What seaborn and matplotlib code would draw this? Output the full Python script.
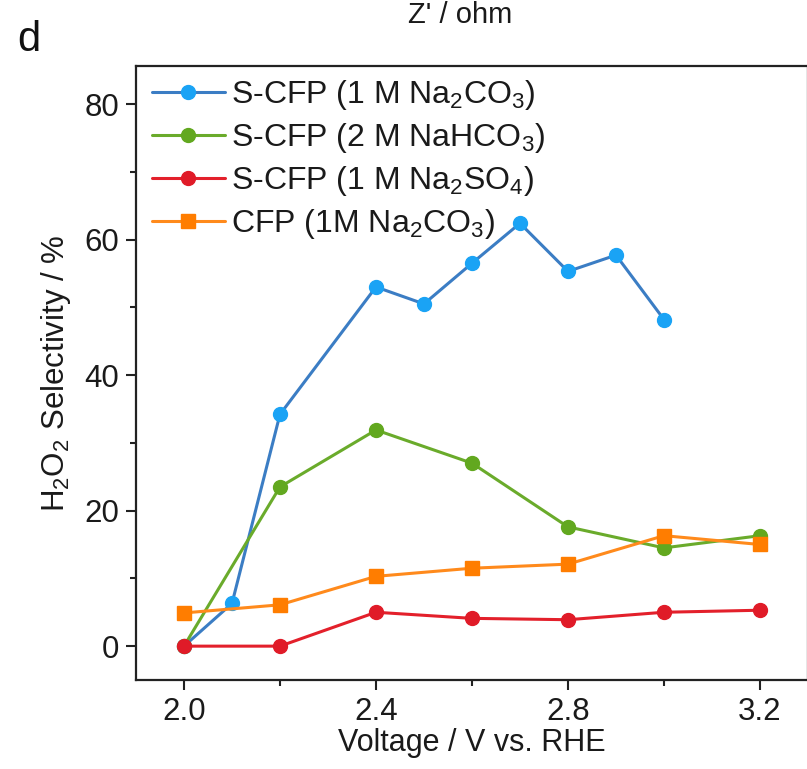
import matplotlib
matplotlib.use("Agg")
import matplotlib.pyplot as plt
import seaborn as sns
import pandas as pd
from matplotlib.ticker import MultipleLocator

# ---- data ----
x_na2co3 = [2.0, 2.1, 2.2, 2.4, 2.5, 2.6, 2.7, 2.8, 2.9, 3.0]
y_na2co3 = [0.0, 6.3, 34.2, 53.0, 50.5, 56.5, 62.4, 55.3, 57.7, 48.2]

x_nahco3 = [2.0, 2.2, 2.4, 2.6, 2.8, 3.0, 3.2]
y_nahco3 = [0.0, 23.5, 31.9, 27.0, 17.6, 14.5, 16.3]

x_na2so4 = [2.0, 2.2, 2.4, 2.6, 2.8, 3.0, 3.2]
y_na2so4 = [0.0, 0.0, 5.0, 4.1, 3.9, 5.0, 5.3]

x_cfp = [2.0, 2.2, 2.4, 2.6, 2.8, 3.0, 3.2]
y_cfp = [4.9, 6.1, 10.3, 11.5, 12.1, 16.3, 15.0]

labels = [r"S-CFP (1 M Na$_2$CO$_3$)",
          r"S-CFP (2 M NaHCO$_3$)",
          r"S-CFP (1 M Na$_2$SO$_4$)",
          r"CFP (1M Na$_2$CO$_3$)"]

x_ticks = [2.0, 2.4, 2.8, 3.2]
x_ticklabels = ["2.0", "2.4", "2.8", "3.2"]

sns.set_theme(style="white")
plt.rcParams["font.family"] = ["Liberation Sans", "DejaVu Sans"]
plt.rcParams["mathtext.default"] = "regular"
plt.rcParams["mathtext.fontset"] = "custom"
plt.rcParams["mathtext.rm"] = "Liberation Sans"

fig = plt.figure(figsize=(8.07, 7.69), dpi=100)
ax = fig.add_axes([0.1685, 0.1157, 0.8327, 0.7984])

series = [
    (x_na2co3, y_na2co3, labels[0], "#3b7dc4", "#1aa3f5", "o"),
    (x_nahco3, y_nahco3, labels[1], "#6aab2b", "#62a81f", "o"),
    (x_na2so4, y_na2so4, labels[2], "#e3202b", "#e01b28", "o"),
    (x_cfp, y_cfp, labels[3], "#ff8a1c", "#ff7d00", "s"),
]

for xs, ys, lab, lc, mc, mk in series:
    df = pd.DataFrame({"x": xs, "y": ys})
    sns.lineplot(data=df, x="x", y="y", ax=ax, color=lc, lw=2.2,
                 marker=mk, markersize=10, markerfacecolor=mc,
                 markeredgecolor=mc, markeredgewidth=1.0, label=lab,
                 errorbar=None, sort=False)

ax.set_xlim(1.9, 3.3)
ax.set_ylim(-5, 85.6)
ax.set_xticks(x_ticks)
ax.set_xticklabels(x_ticklabels)
ax.xaxis.set_minor_locator(MultipleLocator(0.2))
ax.yaxis.set_major_locator(MultipleLocator(20))
ax.yaxis.set_minor_locator(MultipleLocator(10))

ax.tick_params(which="major", direction="out", length=7, width=1.5,
               labelsize=22.5, color="#222222", labelcolor="#1a1a1a", pad=5,
               bottom=True, left=True, top=False, right=False)
ax.tick_params(which="minor", direction="out", length=4, width=1.5,
               color="#222222", bottom=True, left=True, top=False, right=False)
for s in ax.spines.values():
    s.set_color("#222222")
    s.set_linewidth(1.6)

ax.set_xlabel("Voltage / V vs. RHE", fontsize=22, labelpad=1, color="#1a1a1a")
ax.set_ylabel(r"H$_2$O$_2$ Selectivity / %", fontsize=22.5, labelpad=8,
              color="#1a1a1a")

leg = ax.legend(loc="upper left", bbox_to_anchor=(0.0095, 0.996),
                frameon=False, fontsize=23,
                handlelength=2.28, handletextpad=0.2, labelspacing=0.28,
                borderaxespad=0.0, borderpad=0.3)
for t in leg.get_texts():
    t.set_color("#1a1a1a")

fig.text(0.021, 0.948, "d", fontsize=30, ha="left", va="center",
         color="#111111")
fig.text(0.57, 0.999, "Z' / ohm", fontsize=21, ha="center", va="top",
         color="#1a1a1a")

fig.savefig("out.png", dpi=100)
